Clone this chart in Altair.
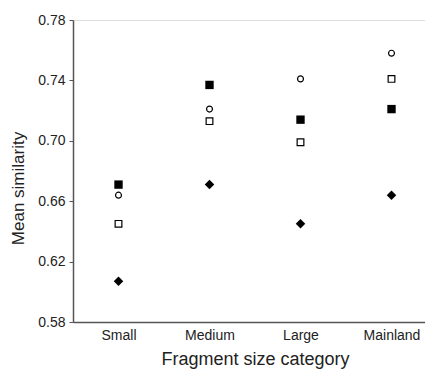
import altair as alt
import pandas as pd

categories = ["Small", "Medium", "Large", "Mainland"]
series = ["Filled square", "Open circle", "Open square", "Diamond"]
filled_square = [0.671, 0.737, 0.714, 0.721]
open_circle = [0.664, 0.721, 0.741, 0.758]
open_square = [0.645, 0.713, 0.699, 0.741]
diamond = [0.607, 0.671, 0.645, 0.664]

rows = []
for s, vals in zip(series, [filled_square, open_circle, open_square, diamond]):
    for c, v in zip(categories, vals):
        rows.append({"category": c, "series": s, "value": v})
df = pd.DataFrame(rows)

base = alt.Chart(df)

x = alt.X("category:N", sort=categories, title="Fragment size category",
          scale=alt.Scale(paddingInner=0, paddingOuter=0, range=[0, 364]),
          axis=alt.Axis(ticks=False, labelAngle=0, labelPadding=6, titlePadding=8,
                        labelFontSize=14, titleFontSize=18, labelColor="#222", titleColor="#222",
                        labelFont="Liberation Sans", titleFont="Liberation Sans", titleFontWeight="normal",
                        domainColor="#555", domainWidth=1.5))
y = alt.Y("value:Q", title="Mean similarity",
          scale=alt.Scale(domain=[0.58, 0.78], nice=False, zero=False),
          axis=alt.Axis(values=[0.58, 0.62, 0.66, 0.70, 0.74, 0.78], format=".2f", tickSize=4,
                        labelFontSize=14, titleFontSize=17, labelColor="#222", titleColor="#222",
                        labelFont="Liberation Sans", titleFont="Liberation Sans", titleFontWeight="normal",
                        domainColor="#555", domainWidth=1.5, tickColor="#555", labelPadding=4,
                        titlePadding=10, titleY=168, grid=False))

def layer(name, shape, filled, size):
    return base.transform_filter(alt.datum.series == name).mark_point(
        shape=shape, filled=filled, size=size, color="black", strokeWidth=1.2, opacity=1
    ).encode(x=x, y=y)

chart = alt.layer(
    layer("Filled square", "square", True, 70),
    layer("Open circle", "circle", False, 35),
    layer("Open square", "square", False, 45),
    layer("Diamond", "diamond", True, 90),
).properties(
    width=352, height=302,
    autosize=alt.AutoSizeParams(type="none"),
    padding={"left": 65, "top": 12, "right": 0, "bottom": 52},
).configure_view(stroke=None).configure(background="white")

chart.save("out.html", embed_options={"renderer": "svg", "actions": False})
